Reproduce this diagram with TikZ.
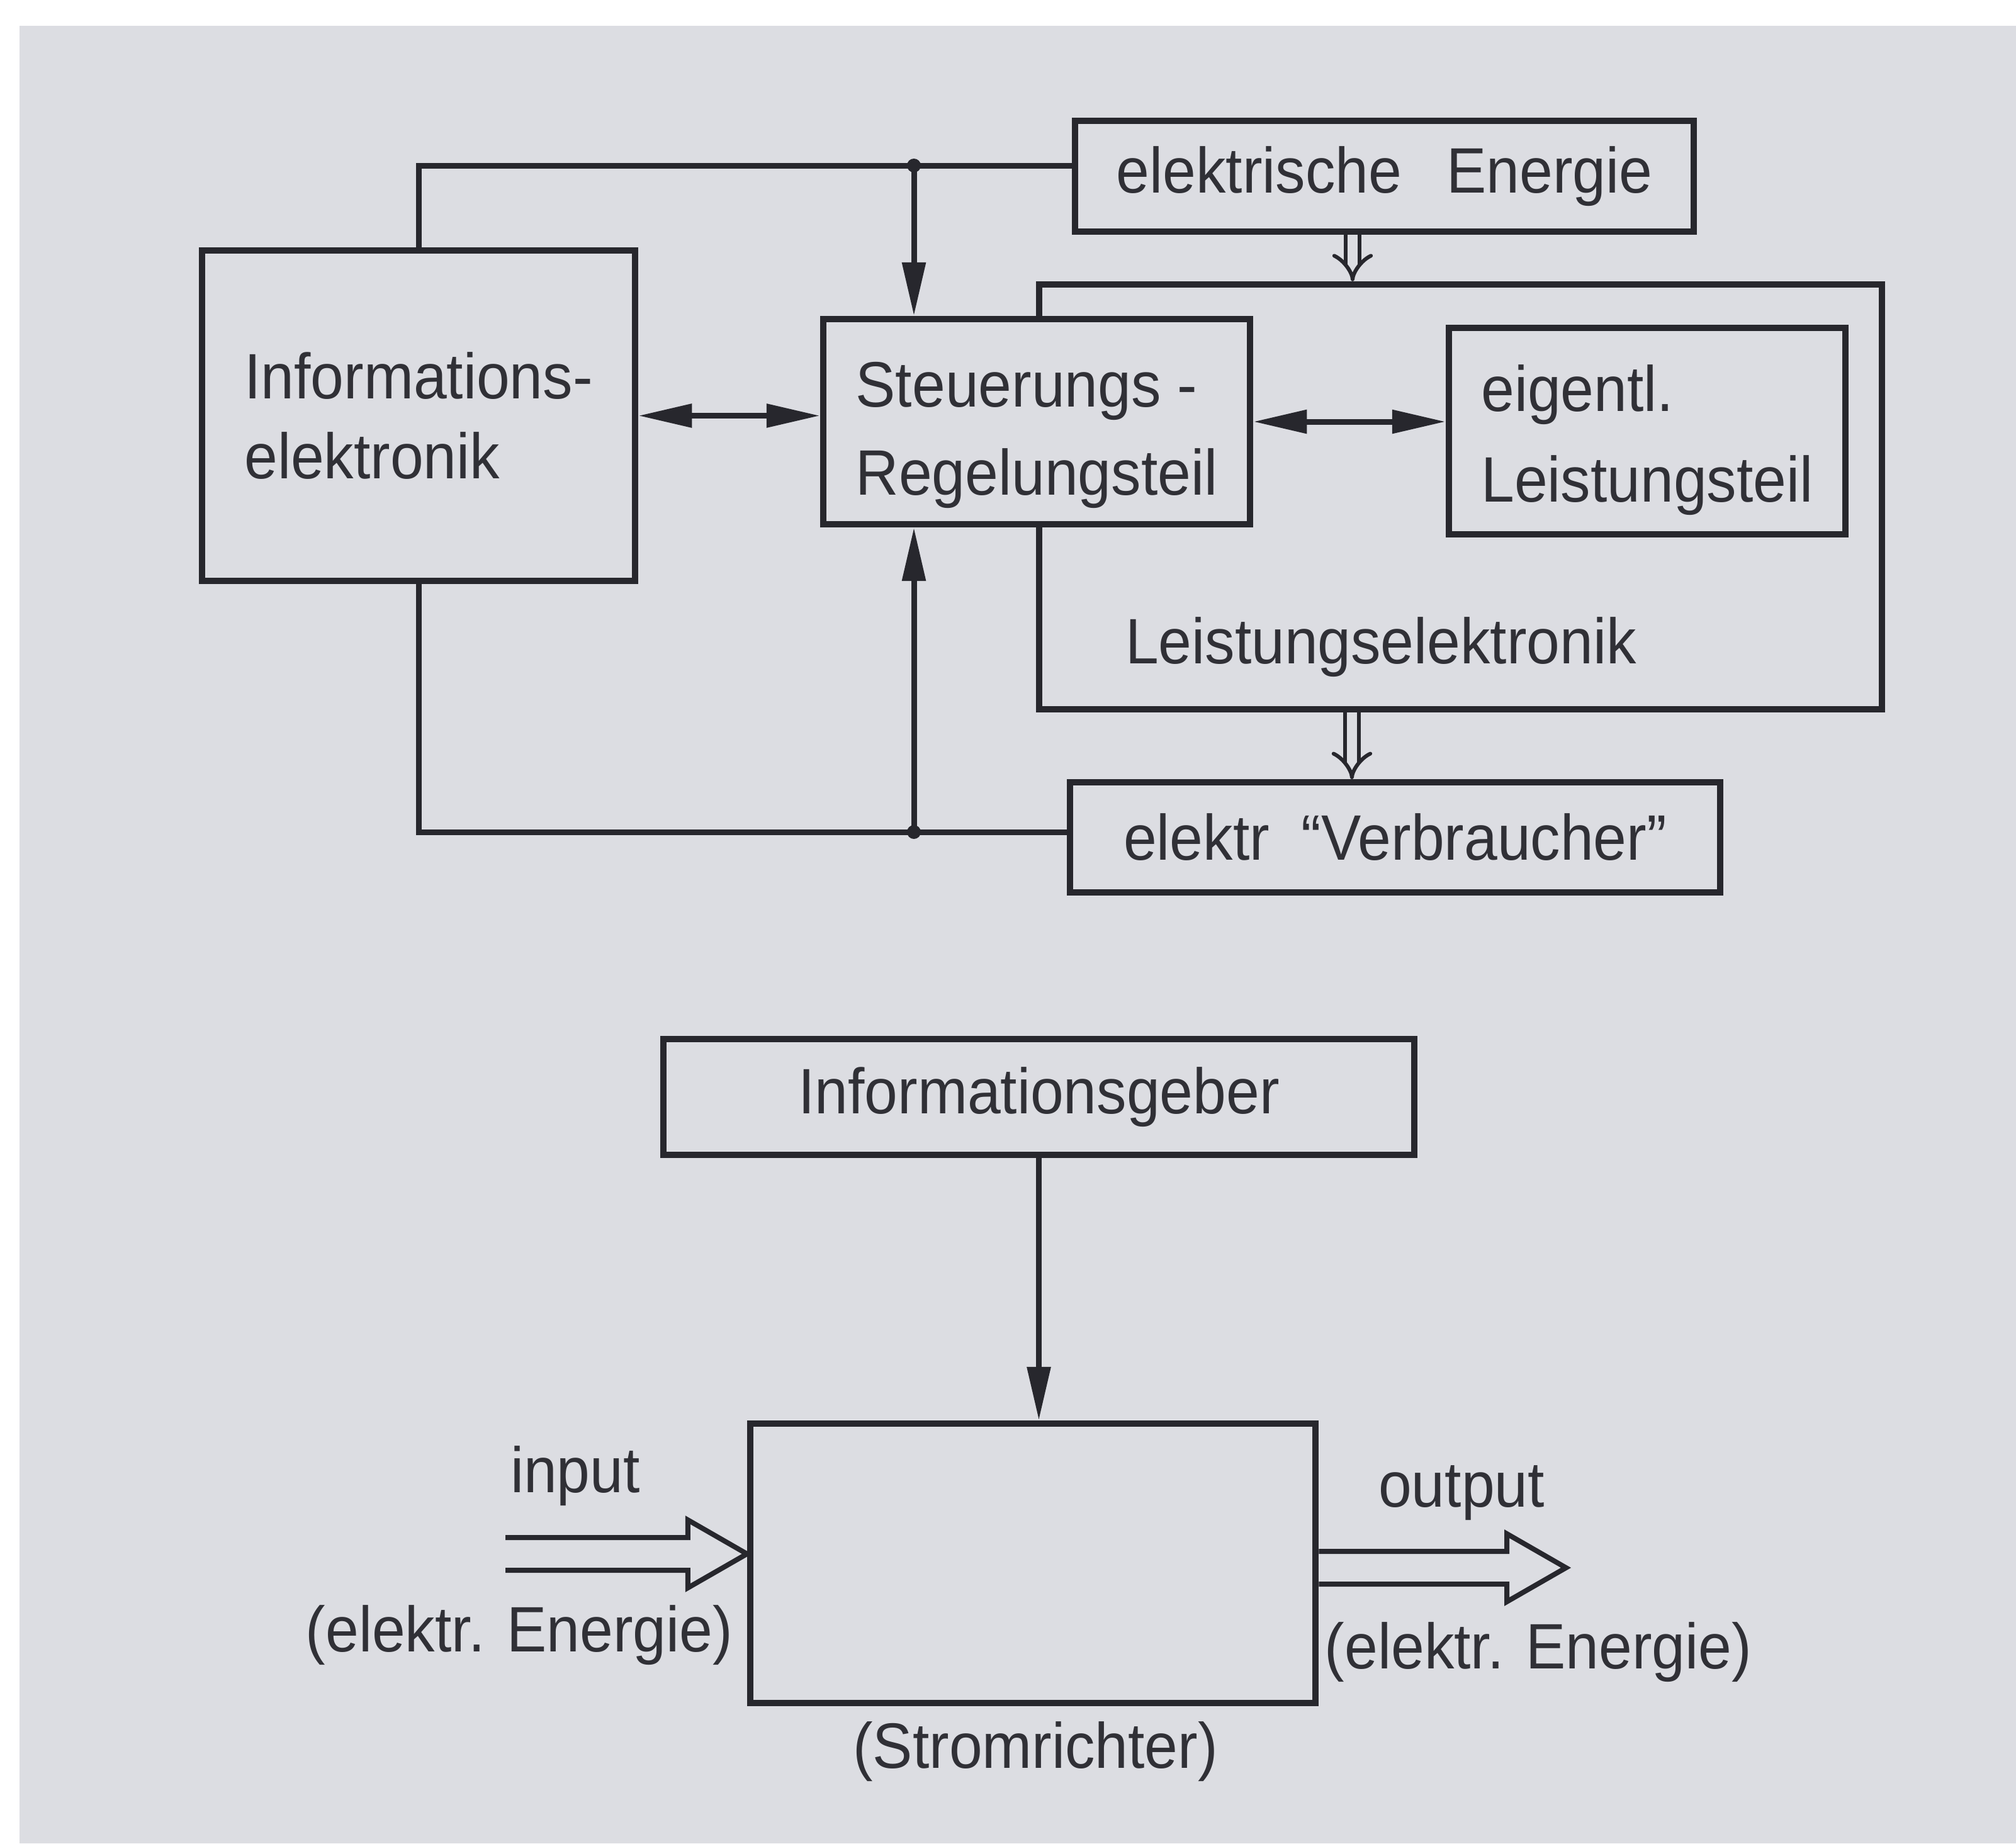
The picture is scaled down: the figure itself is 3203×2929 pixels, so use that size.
\documentclass[tikz,border=0pt]{standalone}
\usepackage{fontspec}
\setmainfont{Liberation Sans}[FakeStretch=0.93]
\usetikzlibrary{arrows.meta,calc}
\definecolor{paper}{HTML}{DCDDE2}
\definecolor{ink}{HTML}{27272D}
\definecolor{textink}{HTML}{303036}

% open block arrow for energy flow: #1 = start (centre of the two shafts), #2 = tip
\newcommand{\blockarrow}[2]{%
  \draw[flow] ($(#1)+(0,-26)$) -- ($(#2)+(-94,-26)$) -- ($(#2)+(-94,-54)$) -- (#2)
    -- ($(#2)+(-94,54)$) -- ($(#2)+(-94,26)$) -- ($(#1)+(0,26)$);}

\begin{document}
\begin{tikzpicture}[x=0.01cm,y=-0.01cm,
  every node/.style={font=\fontsize{29pt}{36pt}\selectfont, text=textink},
  box/.style={draw=ink, line width=1mm, fill=paper, inner sep=0pt, align=left},
  link/.style={draw=ink, line width=0.9mm},
  tip/.style={-{Triangle[length=8.5mm,width=3.6mm]}},
  both/.style={{Triangle[length=8.5mm,width=3.6mm]}-{Triangle[length=8.5mm,width=3.6mm]}},
  power/.style={draw=ink, line width=0.6mm, double=paper, double distance=1.6mm, -{Implies[]}},
  flow/.style={draw=ink, line width=0.8mm, line join=miter},
  dot/.style={circle, fill=ink, inner sep=0pt, minimum size=2.2mm}
]
% paper
\fill[white] (0,0) rectangle (3203,2929);
\fill[paper] (31,41) rectangle (3203,2929);
\useasboundingbox (0,0) rectangle (3203,2929);

% ---------- upper block diagram ----------
\node[box, minimum width=13.39cm, minimum height=6.75cm] (le) at (2320.5,789.5) {};
\node (lelabel) at (2194,1028) {Leistungselektronik};

\node[box, minimum width=6.88cm, minimum height=5.25cm] (info) at (665,660.5) {Informations-\\elektronik};
\node[box, minimum width=6.78cm, minimum height=3.26cm] (steu) at (1647,670) {\rule{0pt}{1.12em}Steuerungs -\\[4pt]Regelungsteil};
\node[box, minimum width=6.30cm, minimum height=3.28cm] (eig) at (2617,685) {\rule{0pt}{1.0em}eigentl.\\[5pt]Leistungsteil};
\node[box, minimum width=9.83cm, minimum height=1.76cm] (ene) at (2199.5,280) {elektrische\hspace{.7em}Energie};
\node[box, minimum width=10.33cm, minimum height=1.75cm] (verb) at (2216.5,1330.5) {elektr\hspace{.5em}``Verbraucher''};

\coordinate (jt) at (1452,263);
\coordinate (jb) at (1452,1322);
\draw[link] (info.north) |- (jt) -- (jt -| ene.west);
\draw[link, tip] (jt) -- (jt |- steu.north);
\draw[link] (info.south) |- (jb) -- (jb -| verb.west);
\draw[link, tip] (jb) -- (jb |- steu.south);
\node[dot] (dt) at (jt) {};
\node[dot] (db) at (jb) {};
\draw[link, both] (info.east) -- (info.east -| steu.west);
\draw[link, both] (steu.east) -- (steu.east -| eig.west);

\draw[power] ([xshift=-5.05mm]ene.south) -- ([xshift=-5.05mm]ene.south |- le.north);
\draw[power] ([xshift=-17.25mm]le.south) -- ([xshift=-17.25mm]le.south |- verb.north);

% ---------- lower block diagram ----------
\node[box, minimum width=11.93cm, minimum height=1.84cm] (geber) at (1650.5,1743) {Informationsgeber};
\node[box, minimum width=8.98cm, minimum height=4.44cm] (sr) at (1641,2484) {};
\draw[link, tip] (geber.south) -- (geber.south |- sr.north);

\coordinate (inStart) at (803,2469);
\coordinate (inTip) at (sr.west |- inStart);
\blockarrow{inStart}{inTip}
\coordinate (oy) at (0,2491);
\coordinate (outStart) at (sr.east |- oy);
\coordinate (outTip) at (2488,2491);
\blockarrow{outStart}{outTip}

\node (inlabel) at (914,2345) {input};
\node (inenergy) at (825,2598) {(elektr. Energie)};
\node (outlabel) at (2322,2372) {output};
\node (outenergy) at (2444,2625) {(elektr. Energie)};
\node (srlabel) at (1645,2783) {(Stromrichter)};
\end{tikzpicture}
\end{document}
